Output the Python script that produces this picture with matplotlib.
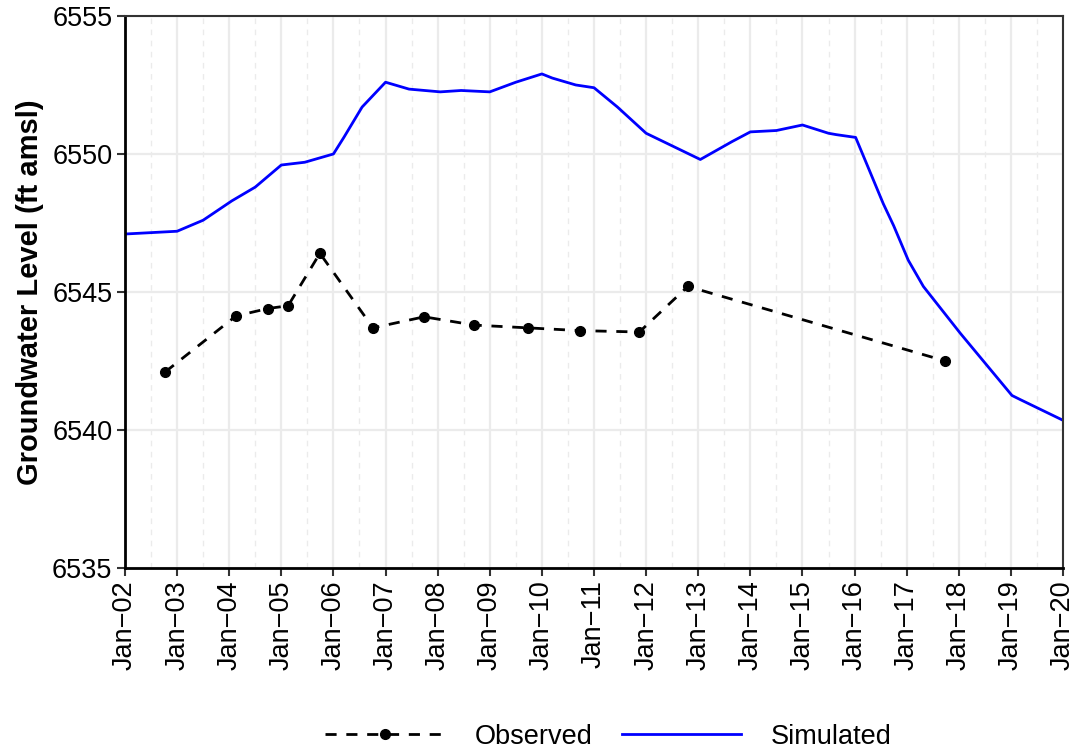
import matplotlib
matplotlib.use("Agg")
from matplotlib import pyplot as plt
from matplotlib.ticker import MultipleLocator

# decimal years
sim_t = [2002.0, 2003.0, 2003.5, 2004.05, 2004.5, 2005.0, 2005.45, 2006.0, 2006.2,
         2006.55, 2007.0, 2007.45, 2008.05, 2008.45, 2009.0, 2009.5, 2010.0, 2010.2,
         2010.65, 2011.0, 2011.45, 2012.0, 2013.04, 2013.65, 2014.0, 2014.5, 2015.0,
         2015.5, 2015.65, 2016.02, 2016.23, 2016.55, 2016.75, 2017.03, 2017.32,
         2018.03, 2019.02, 2019.18, 2020.0]
sim_h = [6547.1, 6547.2, 6547.6, 6548.3, 6548.8, 6549.6, 6549.7, 6550.0, 6550.6,
         6551.7, 6552.6, 6552.35, 6552.25, 6552.3, 6552.25, 6552.6, 6552.9, 6552.75,
         6552.5, 6552.4, 6551.7, 6550.75, 6549.8, 6550.45, 6550.8, 6550.85, 6551.05,
         6550.75, 6550.7, 6550.6, 6549.65, 6548.2, 6547.4, 6546.15, 6545.2,
         6543.5, 6541.25, 6541.1, 6540.35]

obs_t = [2002.77, 2004.13, 2004.74, 2005.13, 2005.74, 2006.76, 2007.74, 2008.7,
         2009.73, 2010.73, 2011.87, 2012.8, 2017.74]
obs_h = [6542.1, 6544.13, 6544.4, 6544.5, 6546.4, 6543.7, 6544.1, 6543.8,
         6543.7, 6543.6, 6543.55, 6545.2, 6542.5]

anios = list(range(2002, 2021))
etiquetas = ["Jan\u2212%02d" % (a % 100) for a in anios]

plt.rcParams["font.family"] = ["Liberation Sans", "DejaVu Sans"]

fig = plt.figure(figsize=(10.81, 7.53), dpi=100)
ax = fig.add_axes([0.1156, 0.2457, 0.8678, 0.7331])

ax.plot(obs_t, obs_h, color="black", linestyle=(0, (4, 3.5)), linewidth=2,
        marker="o", markersize=7, label="Observed")
ax.plot(sim_t, sim_h, color="#0000ff", linewidth=2, label="Simulated")

ax.set_xlim(2002, 2020)
ax.set_ylim(6535, 6555)
ax.set_xticks(anios)
ax.set_xticklabels(etiquetas, rotation=90)
ax.xaxis.set_minor_locator(MultipleLocator(0.5))
ax.yaxis.set_major_locator(MultipleLocator(5))
ax.tick_params(axis="both", which="major", labelsize=19.5, length=6, width=1.5,
               direction="out", color="#333333", labelcolor="black", pad=3)
ax.tick_params(axis="x", which="minor", length=0)
ax.grid(True, which="major", color="#ebebeb", linewidth=1.6)
ax.grid(True, which="minor", axis="x", color="#ebebeb", linewidth=1.0,
        linestyle=(0, (4, 4)))
ax.set_axisbelow(True)

for lado in ["left", "bottom"]:
    ax.spines[lado].set_color("black")
    ax.spines[lado].set_linewidth(2)
for lado in ["top", "right"]:
    ax.spines[lado].set_color("#333333")
    ax.spines[lado].set_linewidth(1.5)

ax.set_ylabel("Groundwater Level (ft amsl)", fontsize=21, fontweight="bold",
              labelpad=6)

fig.legend(loc="lower center", bbox_to_anchor=(0.563, -0.028), ncol=2,
           frameon=False, fontsize=19.5, handlelength=4.4, columnspacing=1.1,
           handletextpad=1.1)

fig.savefig("out.png", dpi=100)
plt.close(fig)
